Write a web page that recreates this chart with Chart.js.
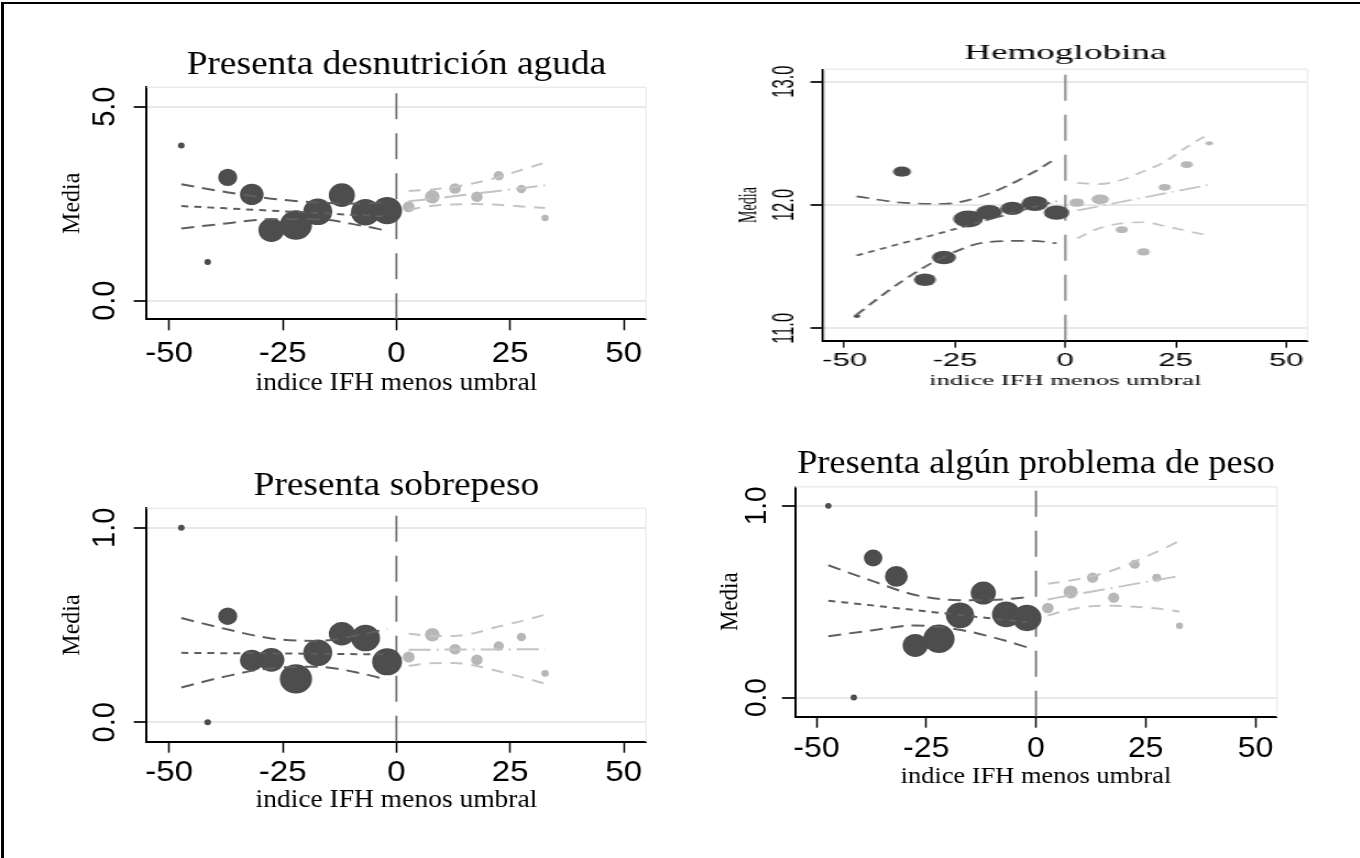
<!DOCTYPE html>
<html lang="es">
<head>
<meta charset="utf-8">
<title>Discontinuidad en el índice IFH</title>
<script src="https://cdn.jsdelivr.net/npm/chart.js@4.4.1/dist/chart.umd.min.js"></script>
<style>
  html, body { margin: 0; padding: 0; background: #fff; }
  #hoja { position: relative; width: 1360px; height: 858px; overflow: hidden; background: #fff; }
  #marco { position: absolute; left: 1px; top: 2px; width: 1400px; height: 900px; border-left: 3px solid #000; border-top: 2px solid #000; }
  canvas { position: absolute; transform-origin: 0 0; }
</style>
</head>
<body>
<div id="hoja">
  <div id="marco"></div>
  <canvas id="g1"></canvas>
  <canvas id="g2"></canvas>
  <canvas id="g3"></canvas>
  <canvas id="g4"></canvas>
</div>
<script>
/* Medias por bin del índice IFH menos umbral, con ajuste lineal e IC a cada lado */

// bins (media del índice dentro de cada bin)
const binX = [-47.3, -41.5, -37.1, -31.8, -27.5, -22.1, -17.3, -12.0, -6.8, -2.05, 2.7, 7.9, 12.9, 17.7, 22.5, 27.5, 32.7];
const binN = [9, 9, 75, 115, 140, 215, 175, 140, 175, 185, 30, 45, 28, 28, 22, 18, 11];
const hbX = [-47.2, -37.0, -31.8, -27.5, -22.0, -17.3, -12.0, -6.9, -2.0, 2.6, 7.9, 12.8, 17.7, 22.5, 27.5, 32.6];
const hbN = [11, 81, 121, 144, 225, 169, 137, 177, 161, 53, 76, 36, 40, 36, 36, 14];
const umbral = 0;
const xTicks = [-50, -25, 0, 25, 50];

// puntos donde se leen las rectas ajustadas y sus bandas
const curveXL = [-47.3, -37.5, -27.5, -17.5, -7.5, -2.0];
const curveXR = [2.7, 7.5, 12.5, 17.5, 22.5, 27.5, 32.7];

// Presenta desnutrición aguda
const desnY = [4.00, 1.00, 3.18, 2.74, 1.82, 1.95, 2.29, 2.72, 2.28, 2.32, 2.42, 2.68, 2.89, 2.68, 3.22, 2.88, 2.13];
const desnFitL = [2.44, 2.38, 2.32, 2.26, 2.20, 2.17];
const desnHiL = [3.00, 2.80, 2.63, 2.53, 2.50, 2.54];
const desnLoL = [1.86, 1.99, 2.10, 2.10, 1.93, 1.80];
const desnFitR = [2.56, 2.62, 2.69, 2.76, 2.83, 2.90, 2.97];
const desnHiR = [2.83, 2.86, 2.93, 3.04, 3.19, 3.37, 3.56];
const desnLoR = [2.34, 2.44, 2.48, 2.49, 2.47, 2.43, 2.39];
const desnTicks = [0, 5];

// Hemoglobina
const hbY = [11.10, 12.27, 11.394, 11.575, 11.887, 11.94, 11.973, 12.013, 11.938, 12.019, 12.046, 11.80, 11.62, 12.143, 12.328, 12.50];
const hbFitL = [11.59, 11.685, 11.78, 11.88, 11.98, 12.03];
const hbHiL = [12.07, 12.02, 12.01, 12.09, 12.26, 12.38];
const hbLoL = [11.11, 11.37, 11.58, 11.70, 11.71, 11.69];
const hbFitR = [11.955, 11.989, 12.024, 12.059, 12.094, 12.129, 12.165];
const hbHiR = [12.18, 12.17, 12.20, 12.27, 12.35, 12.47, 12.58];
const hbLoR = [11.73, 11.81, 11.85, 11.86, 11.83, 11.79, 11.75];
const hbTicks = [11, 12, 13];

// Presenta sobrepeso
const sobreY = [1.0, 0.0, 0.545, 0.318, 0.321, 0.223, 0.357, 0.455, 0.433, 0.311, 0.335, 0.450, 0.375, 0.321, 0.392, 0.438, 0.251];
const sobreFitL = [0.357, 0.355, 0.354, 0.352, 0.350, 0.349];
const sobreHiL = [0.536, 0.479, 0.431, 0.418, 0.452, 0.480];
const sobreLoL = [0.179, 0.236, 0.278, 0.285, 0.250, 0.218];
const sobreFitR = [0.373, 0.373, 0.374, 0.374, 0.374, 0.375, 0.375];
const sobreHiR = [0.455, 0.444, 0.443, 0.460, 0.492, 0.520, 0.553];
const sobreLoR = [0.290, 0.303, 0.305, 0.290, 0.262, 0.232, 0.198];

// Presenta algún problema de peso
const pesoY = [1.0, 0.0, 0.728, 0.632, 0.272, 0.307, 0.429, 0.545, 0.434, 0.415, 0.467, 0.551, 0.625, 0.521, 0.695, 0.625, 0.375];
const pesoFitL = [0.505, 0.481, 0.456, 0.431, 0.406, 0.393];
const pesoHiL = [0.690, 0.610, 0.535, 0.508, 0.512, 0.524];
const pesoLoL = [0.320, 0.350, 0.376, 0.354, 0.300, 0.262];
const pesoFitR = [0.512, 0.532, 0.552, 0.572, 0.593, 0.613, 0.634];
const pesoHiR = [0.594, 0.609, 0.632, 0.664, 0.710, 0.760, 0.817];
const pesoLoR = [0.428, 0.458, 0.476, 0.479, 0.474, 0.464, 0.449];
const propTicks = [0, 1];

const PTO_OSC = "#4d4d4d", LIN_OSC = "#5e5e5e", PTO_CLA = "#b7b7b7", LIN_CLA = "#c4c4c4";
const SERIF = "'Liberation Serif', 'Times New Roman', serif";
const SANS = "'Liberation Sans', Arial, sans-serif";

// borde claro de la región del gráfico (arriba y derecha)
const bordeRegion = {
  id: "bordeRegion",
  beforeDatasetsDraw(chart, args, o) {
    const a = chart.chartArea, c = chart.ctx;
    c.save();
    c.strokeStyle = "#ececec";
    c.lineWidth = 1.5;
    c.beginPath();
    c.moveTo(a.left, a.top); c.lineTo(a.right, a.top);
    c.stroke();
    c.lineWidth = 1.5 / o.sx;
    c.beginPath();
    c.moveTo(a.right, a.top); c.lineTo(a.right, a.bottom);
    c.stroke();
    c.restore();
  }
};

function linea(xs, ys, color, dash, p) {
  return {
    data: xs.map((x, i) => ({ x, y: ys[i] })), showLine: true, borderColor: color, borderWidth: p.lw,
    borderDash: dash.map(d => d / p.sx), pointRadius: 0, cubicInterpolationMode: "monotone", order: 1
  };
}
function puntos(obs, color) {
  return { data: obs.map(d => ({ x: d.x, y: d.y })), pointRadius: obs.map(d => d.r), backgroundColor: color, borderWidth: 0, order: 2 };
}

function panel(id, p) {
  const cv = document.getElementById(id);
  cv.width = p.w; cv.height = p.h;
  cv.style.cssText = `left:${p.left}px;top:${p.top}px;width:${p.w}px;height:${p.h}px;transform:scaleX(${p.sx})`;
  const obs = p.x.map((x, i) => ({ x, y: p.y[i], r: Math.sqrt(p.n[i]) * p.k }));
  new Chart(cv, {
    type: "scatter",
    data: { datasets: [
      linea(curveXL, p.fitL, LIN_OSC, [7, 6], p),
      linea(curveXL, p.hiL, LIN_OSC, [13, 8], p),
      linea(curveXL, p.loL, LIN_OSC, [13, 8], p),
      linea(curveXR, p.fitR, LIN_CLA, [22, 6, 2, 6], p),
      linea(curveXR, p.hiR, LIN_CLA, [12, 9], p),
      linea(curveXR, p.loR, LIN_CLA, [12, 9], p),
      puntos(obs.filter(d => d.x < umbral), PTO_OSC),
      puntos(obs.filter(d => d.x > umbral), PTO_CLA),
      { data: [{ x: umbral, y: p.yMin }, { x: umbral, y: p.yMax }], showLine: true, borderColor: "#727272",
        borderWidth: 2 / p.sx, borderDash: [26, 14], pointRadius: 0, order: 3 }
    ]},
    options: {
      responsive: false, animation: false, devicePixelRatio: 1, events: [],
      layout: { padding: { left: 0, top: 0, bottom: 0, right: p.padR } },
      plugins: {
        legend: { display: false }, tooltip: { enabled: false },
        bordeRegion: { sx: p.sx },
        title: { display: true, fullSize: false, text: p.titulo, color: "#000", font: { family: SERIF, size: p.fTit, weight: "normal" },
          padding: { top: p.titPad[0], bottom: p.titPad[1] } }
      },
      scales: {
        x: {
          type: "linear", min: -p.xLim, max: p.xLim,
          afterFit: s => { s.height = p.xH; },
          afterBuildTicks: s => { s.ticks = xTicks.map(v => ({ value: v })); },
          ticks: { color: "#000", font: { family: SANS, size: p.fTx }, padding: p.padTx, maxRotation: 0, autoSkip: false, callback: v => String(v) },
          grid: { drawOnChartArea: false, tickLength: p.tlx, tickColor: "#000", tickWidth: 1.7 / p.sx },
          border: { color: "#000", width: 2 },
          title: { display: true, text: "indice IFH menos umbral", color: "#000", font: { family: SERIF, size: p.fTtx },
            padding: { top: 0, bottom: p.padTtx } }
        },
        y: {
          type: "linear", min: p.yMin, max: p.yMax,
          afterFit: s => { s.width = p.yW; },
          afterBuildTicks: s => { s.ticks = p.yTicks.map(v => ({ value: v })); },
          ticks: { color: "#000", font: { family: SANS, size: p.fTy }, padding: p.padTy, minRotation: 90, maxRotation: 90,
            crossAlign: "center", autoSkip: false, callback: v => v.toFixed(1) },
          grid: { color: "#e8e8e8", lineWidth: 2, tickLength: p.tly, tickColor: "#000", tickWidth: 1.7 },
          border: { color: "#000", width: 2.2 / p.sx },
          title: { display: true, text: "Media", color: "#000", font: { family: SERIF, size: p.fTty },
            padding: { top: p.padTty, bottom: 0 } }
        }
      }
    },
    plugins: [bordeRegion]
  });
}

panel("g1", {
  titulo: "Presenta desnutrición aguda", x: binX, y: desnY, n: binN, k: 1,
  fitL: desnFitL, hiL: desnHiL, loL: desnLoL, fitR: desnFitR, hiR: desnHiR, loR: desnLoR,
  yTicks: desnTicks, yMin: -0.48, yMax: 5.5, xLim: 54.9,
  left: 0, top: 20, sx: 1.1, w: 618, h: 400, padR: 30.7, xH: 100.7, yW: 133.4, lw: 2,
  fTit: 34, titPad: [24.4, 2.1], fTx: 30, padTx: 5, tlx: 11, fTtx: 25, padTtx: 21.7,
  fTy: 29, padTy: 5, tly: 11.8, fTty: 24, padTty: 51.1
});

panel("g2", {
  titulo: "Hemoglobina", x: hbX, y: hbY, n: hbN, k: 1 / 1.77,
  fitL: hbFitL, hiL: hbHiL, loL: hbLoL, fitR: hbFitR, hiR: hbHiR, loR: hbLoR,
  yTicks: hbTicks, yMin: 10.9, yMax: 13.1, xLim: 54.8,
  left: 680, top: 20, sx: 1.77, w: 384, h: 400, padR: 29.6, xH: 79.3, yW: 81, lw: 1.7,
  fTit: 21, titPad: [20.9, 3.2], fTx: 17.5, padTx: 2.8, tlx: 7, fTtx: 15, padTtx: 30,
  fTy: 16.5, padTy: -1.6, tly: 7.3, fTty: 14, padTty: 31.4
});

panel("g3", {
  titulo: "Presenta sobrepeso", x: binX, y: sobreY, n: binN, k: 1,
  fitL: sobreFitL, hiL: sobreHiL, loL: sobreLoL, fitR: sobreFitR, hiR: sobreHiR, loR: sobreLoR,
  yTicks: propTicks, yMin: -0.1, yMax: 1.1, xLim: 54.9,
  left: 0, top: 440, sx: 1.1, w: 618, h: 400, padR: 30.7, xH: 98.3, yW: 133.4, lw: 2,
  fTit: 34, titPad: [26.1, 1.4], fTx: 30, padTx: 2.3, tlx: 11, fTtx: 25, padTtx: 25,
  fTy: 29, padTy: 5, tly: 11.8, fTty: 24, padTty: 51.1
});

panel("g4", {
  titulo: "Presenta algún problema de peso", x: binX, y: pesoY, n: binN, k: 0.97,
  fitL: pesoFitL, hiL: pesoHiL, loL: pesoLoL, fitR: pesoFitR, hiR: pesoHiR, loR: pesoLoR,
  yTicks: propTicks, yMin: -0.1, yMax: 1.1, xLim: 54.9,
  left: 680, top: 420, sx: 1.1, w: 618, h: 420, padR: 75.3, xH: 123.3, yW: 104.5, lw: 2,
  fTit: 33, titPad: [24.7, 2.4], fTx: 29, padTx: 3.9, tlx: 11, fTtx: 24, padTtx: 48.6,
  fTy: 28, padTy: 3.2, tly: 11.8, fTty: 23, padTty: 31.7
});
</script>
</body>
</html>
